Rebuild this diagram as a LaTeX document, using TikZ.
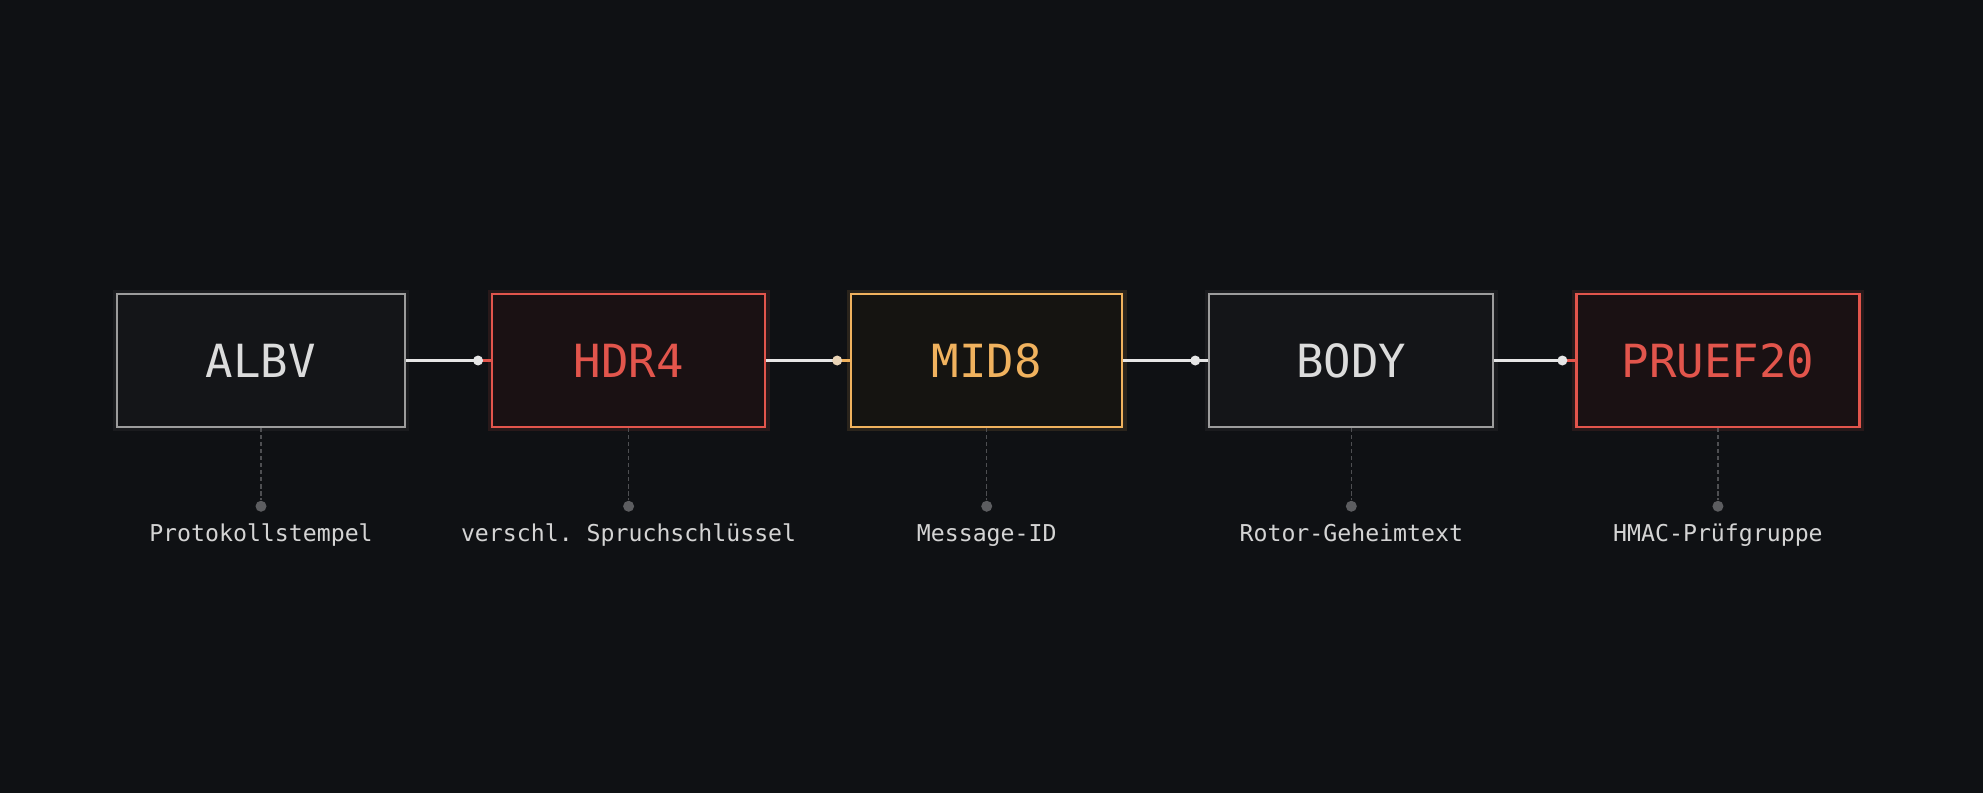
\documentclass[tikz,border=0pt]{standalone}
\usepackage{fontspec}
\setmonofont{DejaVu Sans Mono}
\usetikzlibrary{positioning}
\definecolor{bgdark}{HTML}{0F1114}
\definecolor{fillgray}{HTML}{141518}
\definecolor{fillred}{HTML}{1A1113}
\definecolor{fillorange}{HTML}{151411}
\definecolor{strokegray}{HTML}{9C9C9C}
\definecolor{txtgray}{HTML}{DCDCDC}
\definecolor{accred}{HTML}{E2554C}
\definecolor{accorange}{HTML}{F0B25E}
\definecolor{wirewhite}{HTML}{E6E6E6}
\definecolor{tickgray}{HTML}{4E4F52}
\definecolor{dotgray}{HTML}{5C5D60}
\definecolor{lblgray}{HTML}{D4D4D4}
\tikzset{
    boxg/.style = {rectangle, line width=0.6pt, draw=strokegray, fill=fillgray, minimum height=1.33cm, inner sep=0pt, font=\ttfamily\fontsize{13}{15}\selectfont, text=txtgray, preaction={draw=strokegray, line width=2.5pt, opacity=0.08}},
    boxr/.style = {rectangle, line width=0.6pt, draw=accred, fill=fillred, minimum height=1.33cm, inner sep=0pt, font=\ttfamily\fontsize{13}{15}\selectfont, text=accred, preaction={draw=accred, line width=2.5pt, opacity=0.12}},
    boxo/.style = {rectangle, line width=0.6pt, draw=accorange, fill=fillorange, minimum height=1.33cm, inner sep=0pt, font=\ttfamily\fontsize{13}{15}\selectfont, text=accorange, preaction={draw=accorange, line width=2.5pt, opacity=0.12}},
    wire/.style = {-, line width=0.6pt, wirewhite},
    wirer/.style = {-, line width=0.6pt, accred},
    wireo/.style = {-, line width=0.6pt, accorange},
    joint/.style = {circle, fill=wirewhite, inner sep=0pt, minimum size=0.1cm},
    jointo/.style = {circle, fill=accorange!35!wirewhite, inner sep=0pt, minimum size=0.1cm},
    tick/.style = {-, line width=0.35pt, tickgray, dash pattern=on 1.2pt off 0.8pt},
    tickdot/.style = {circle, fill=dotgray, inner sep=0pt, minimum size=0.11cm},
    lbl/.style = {font=\ttfamily\fontsize{6.6}{8}\selectfont, text=lblgray, inner sep=0pt}
}
\begin{document}
\begin{tikzpicture}
  \fill[bgdark] (0,0) rectangle (19.83,7.93);
  \useasboundingbox (0,0) rectangle (19.83,7.93);
  % frame fields
  \node[boxg, minimum width=2.88cm] (albv) at (2.61,4.325) {ALBV};
  \node[boxr, minimum width=2.73cm, right=0.85cm of albv] (hdr) {HDR4};
  \node[boxo, minimum width=2.71cm, right=0.84cm of hdr] (mid) {MID8};
  \node[boxg, minimum width=2.84cm, right=0.85cm of mid] (body) {BODY};
  \node[boxr, minimum width=2.83cm, right=0.81cm of body] (pruef) {PRUEF20};
  % joints
  \coordinate[left=0.13cm of hdr.west] (j1);
  \coordinate[left=0.13cm of mid.west] (j2);
  \coordinate[left=0.13cm of body.west] (j3);
  \coordinate[left=0.13cm of pruef.west] (j4);
  \draw[wire] (albv.east) -- (j1);
  \draw[wirer] (j1) -- (hdr.west);
  \draw[wire] (hdr.east) -- (j2);
  \draw[wireo] (j2) -- (mid.west);
  \draw[wire] (mid.east) -- (j3);
  \draw[wire] (j3) -- (body.west);
  \draw[wire] (body.east) -- (j4);
  \draw[wirer] (j4) -- (pruef.west);
  \node[joint] at (j1) {};
  \node[jointo] at (j2) {};
  \node[joint] at (j3) {};
  \node[joint] at (j4) {};
  % labels
  \node[tickdot, below=0.72cm of albv.south] (t1) {};
  \node[tickdot, below=0.72cm of hdr.south] (t2) {};
  \node[tickdot, below=0.72cm of mid.south] (t3) {};
  \node[tickdot, below=0.72cm of body.south] (t4) {};
  \node[tickdot, below=0.72cm of pruef.south] (t5) {};
  \draw[tick] (albv.south) -- (t1);
  \draw[tick] (hdr.south) -- (t2);
  \draw[tick] (mid.south) -- (t3);
  \draw[tick] (body.south) -- (t4);
  \draw[tick] (pruef.south) -- (t5);
  \node[lbl, below=0.29cm of t1.south, anchor=base] (l1) {Protokollstempel};
  \node[lbl, below=0.29cm of t2.south, anchor=base] (l2) {verschl. Spruchschlüssel};
  \node[lbl, below=0.29cm of t3.south, anchor=base] (l3) {Message-ID};
  \node[lbl, below=0.29cm of t4.south, anchor=base] (l4) {Rotor-Geheimtext};
  \node[lbl, below=0.29cm of t5.south, anchor=base] (l5) {HMAC-Prüfgruppe};
\end{tikzpicture}
\end{document}
